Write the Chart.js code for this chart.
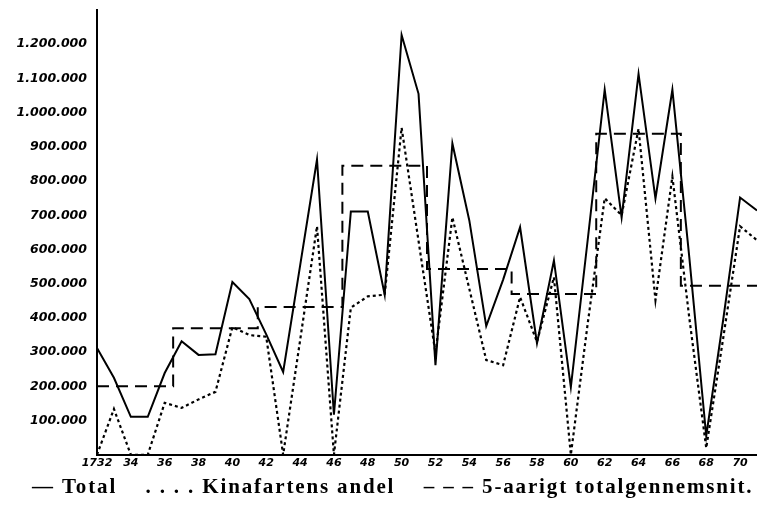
<!DOCTYPE html>
<html>
<head>
<meta charset="utf-8">
<script src="https://cdn.jsdelivr.net/npm/chart.js@4"></script>
<style>
  html, body { margin: 0; padding: 0; background: #fff; }
  #wrap { width: 757px; height: 510px; }
</style>
</head>
<body>
<div id="wrap"><canvas id="chart"></canvas></div>
<script>
// Aarlig total og Kinafartens andel, 1732-1771 (i tusinder)
const years = [];
for (let y = 1732; y <= 1771; y++) years.push(y);

const total = [
  312, 225, 111, 111, 239, 332, 292, 294, 505, 455,
  352, 242, 552, 863, 117, 711, 711, 468, 1227, 1055,
  262, 910, 685, 376, 512, 665, 326, 568, 198, 630,
  1067, 694, 1113, 749, 1067, 577, 55, 394, 752, 714
];

const kina = [
  0, 134, 0, 0, 152, 137, 162, 184, 373, 350,
  345, 0, 334, 668, 0, 430, 463, 468, 956, 625,
  297, 694, 485, 277, 262, 461, 330, 519, 0, 385,
  750, 700, 953, 452, 813, 400, 20, 340, 668, 627
];

// 5-aarigt gennemsnit: en værdi pr. blok (1732-36, 1737-41, ...)
const avgBlocks = [200, 370, 432, 845, 543, 470, 938, 494];

const xTicks = [1732, 1734, 1736, 1738, 1740, 1742, 1744, 1746, 1748, 1750,
  1752, 1754, 1756, 1758, 1760, 1762, 1764, 1766, 1768, 1770];

// forklaring under figuren (nbsp foran flytter teksten lidt mod højre, som i originalen)
const legendText = '\u00a0\u00a0\u00a0\u00a0\u2014 Total    . . . . Kinafartens andel    \u2013 \u2013 \u2013 5-aarigt totalgennemsnit.';

// byg punkter
const toPts = (arr) => arr.map((v, i) => ({ x: years[i], y: v * 1000 }));
const avgPts = years.map((yr, i) => ({ x: yr, y: avgBlocks[Math.floor(i / 5)] * 1000 }));

function fmtDots(v) {
  return String(v).replace(/\B(?=(\d{3})+(?!\d))/g, '.');
}

const ctx = document.getElementById('chart').getContext('2d');
const chart = new Chart(ctx, {
  type: 'line',
  data: {
    datasets: [
      {
        label: 'Total',
        data: toPts(total),
        borderColor: '#000',
        borderWidth: 2,
        pointRadius: 0,
        tension: 0
      },
      {
        label: 'Kinafartens andel',
        data: toPts(kina),
        borderColor: '#000',
        borderWidth: 2.2,
        borderDash: [3, 3],
        pointRadius: 0,
        tension: 0
      },
      {
        label: '5-aarigt totalgennemsnit',
        data: avgPts,
        borderColor: '#000',
        borderWidth: 2,
        borderDash: [12, 7],
        stepped: 'middle',
        pointRadius: 0
      }
    ]
  },
  options: {
    responsive: true,
    maintainAspectRatio: false,
    animation: false,
    layout: { padding: { top: 10, left: 0, right: 0, bottom: 0 } },
    scales: {
      x: {
        type: 'linear',
        min: 1732,
        max: 1771,
        grid: { display: false, drawTicks: false },
        border: { display: true, color: '#000', width: 2 },
        afterBuildTicks: (axis) => { axis.ticks = xTicks.map(v => ({ value: v })); },
        afterFit: (axis) => { axis.height = 20; },
        ticks: {
          color: '#000',
          font: { family: 'DejaVu Sans', size: 11, style: 'italic', weight: 'bold' },
          padding: 2,
          maxRotation: 0,
          autoSkip: false,
          callback: (v) => v === 1732 ? '1732' : String(v).slice(2)
        }
      },
      y: {
        min: 0,
        max: 1300000,
        grid: { display: false, drawTicks: false },
        border: { display: true, color: '#000', width: 2 },
        afterFit: (axis) => {
          axis.width = 97;
          axis.paddingTop = 0;
          axis.paddingBottom = 0;
        },
        ticks: {
          stepSize: 100000,
          color: '#000',
          font: { family: 'DejaVu Sans', size: 12.5, style: 'italic', weight: 'bold' },
          padding: 10,
          callback: (v) => (v === 0 || v === 1300000) ? '' : fmtDots(v)
        }
      }
    },
    plugins: {
      legend: { display: false },
      tooltip: { enabled: false },
      title: {
        display: true,
        position: 'bottom',
        text: legendText,
        color: '#000',
        font: { family: 'Liberation Serif', size: 21, weight: 'bold' },
        padding: { top: 0, bottom: 10 }
      }
    }
  }
});

// spærret tryk i forklaringen (letterSpacing kun for titlen)
const tb = chart.titleBlock;
if (tb) {
  const origDraw = tb.draw.bind(tb);
  tb.draw = (area) => {
    ctx.save();
    ctx.letterSpacing = '1.85px';
    origDraw(area);
    ctx.restore();
  };
  chart.draw();
}
</script>
</body>
</html>
